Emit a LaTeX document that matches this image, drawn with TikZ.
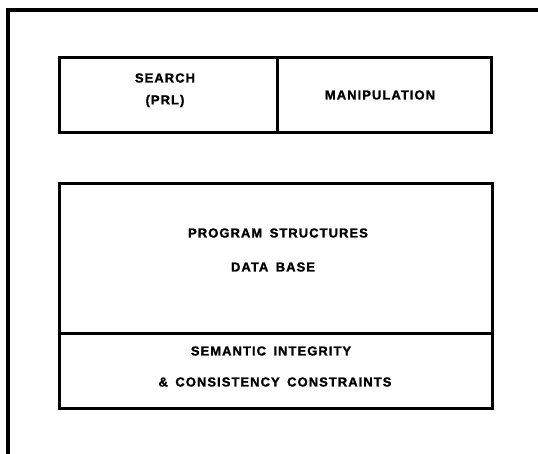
\documentclass[tikz,border=0pt]{standalone}
\usepackage{fontspec}
\setmainfont{Liberation Sans}[BoldFont={* Bold}]
\newfontfamily\boxfont{Liberation Sans Bold}[LetterSpace=8, WordSpace=1.6, FakeBold=1.4]
\begin{document}
\begin{tikzpicture}[x=1pt,y=-1pt,
  frame/.style={line width=3.2pt, line cap=rect, line join=miter},
  cell/.style={draw, line width=3pt, rectangle, inner sep=0pt},
  lbl/.style={font=\boxfont\fontsize{13}{15}\selectfont, inner sep=0pt}]
% page extent
\useasboundingbox (0,0) rectangle (538,454);
% open outer frame (left and top sides)
\coordinate (fbl) at (8,456);
\coordinate (ftl) at (8,10);
\coordinate (ftr) at (540,10);
\draw[frame] (fbl) -- (ftl) -- (ftr);
% upper pair of cells
\node[cell, minimum width=218pt, minimum height=75pt] (search) at (168,95.5) {};
\node[cell, minimum width=214pt, minimum height=75pt] (manip) at (384,95.5) {};
\node[lbl] (searchA) at (165,78) {SEARCH};
\node[lbl] (searchB) at (165,101) {(PRL)};
\node[lbl] (manipT) at (380,95) {MANIPULATION};
% data base block
\node[cell, minimum width=433pt, minimum height=149pt] (db) at (275.5,258.5) {};
\node[cell, minimum width=433pt, minimum height=75pt] (sic) at (275.5,370.5) {};
\node[lbl] (progT) at (278,233) {PROGRAM STRUCTURES};
\node[lbl] (dbT) at (273,267) {DATA BASE};
\node[lbl] (sicA) at (271,351) {SEMANTIC INTEGRITY};
\node[lbl] (sicB) at (275,382) {\& CONSISTENCY CONSTRAINTS};
\end{tikzpicture}
\end{document}
